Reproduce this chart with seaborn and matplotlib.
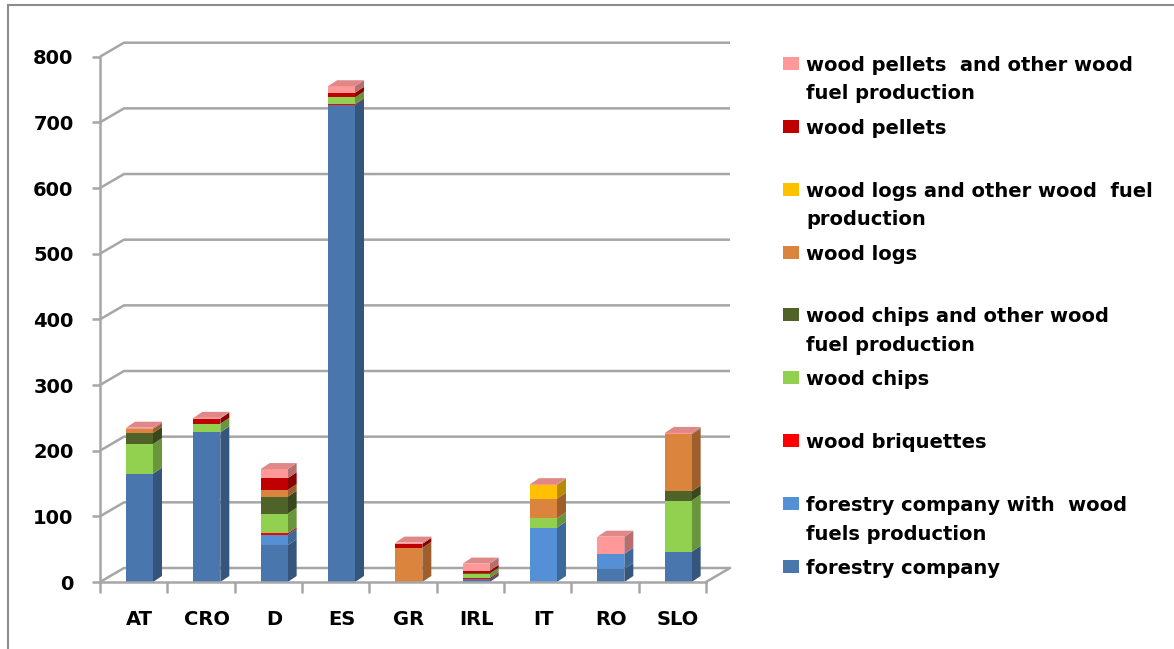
import numpy as np
import pandas as pd
import matplotlib
matplotlib.use("Agg")
import matplotlib.pyplot as plt
import matplotlib.colors as mcolors
from matplotlib.patches import Polygon, Rectangle
import seaborn as sns

# ---------------- data ----------------
countries = ["AT", "CRO", "D", "ES", "GR", "IRL", "IT", "RO", "SLO"]

series_names = [
    "forestry company",
    "forestry company with  wood\nfuels production",
    "wood briquettes",
    "wood chips",
    "wood chips and other wood\nfuel production",
    "wood logs",
    "wood logs and other wood  fuel\nproduction",
    "wood pellets",
    "wood pellets  and other wood\nfuel production",
]
series_colors = ["#4A76AE", "#5590D6", "#FF0000", "#92D050", "#4F6228",
                 "#DB843D", "#FFC000", "#C00000", "#FF9999"]

forestry_company = [165, 228, 56, 727, 0, 4, 0, 20, 46]
forestry_company_wood_fuels = [0, 0, 16, 0, 0, 0, 83, 23, 0]
wood_briquettes = [0, 0, 2, 1, 0, 2, 0, 0, 0]
wood_chips = [45, 13, 30, 10, 0, 6, 14, 0, 78]
wood_chips_other = [17, 0, 26, 0, 0, 1, 0, 0, 14]
wood_logs = [6, 0, 10, 0, 52, 0, 30, 0, 87]
wood_logs_other = [0, 0, 0, 0, 0, 0, 21, 0, 0]
wood_pellets = [0, 8, 18, 7, 6, 4, 0, 0, 0]
wood_pellets_other = [2, 1, 14, 10, 2, 11, 1, 26, 2]

y_ticks = [0, 100, 200, 300, 400, 500, 600, 700, 800]

values = [forestry_company, forestry_company_wood_fuels, wood_briquettes,
          wood_chips, wood_chips_other, wood_logs, wood_logs_other,
          wood_pellets, wood_pellets_other]

df = pd.DataFrame({"country": countries})
for name, vals in zip(series_names, values):
    df[name] = vals
cum = df[series_names].cumsum(axis=1)
bottoms = cum.shift(1, axis=1).fillna(0)

# ---------------- figure ----------------
W, H = 1174, 649
sns.set_theme(style="white")
plt.rcParams["font.family"] = ["DejaVu Sans"]
plt.rcParams["font.weight"] = "bold"
fig = plt.figure(figsize=(W / 100, H / 100), dpi=100)
fig.patch.set_facecolor("white")

px_left, px_right, px_y0, px_y800 = 100, 706, 582, 56.7
ax = fig.add_axes([px_left / W, 1 - px_y0 / H,
                   (px_right - px_left) / W, (px_y0 - px_y800) / H])
ax.set_facecolor("none")

bar_w = 0.40
grid_c = "#A6A6A6"

# stacked front faces, drawn from the full stack downwards
for name, color in zip(series_names[::-1], series_colors[::-1]):
    tmp = pd.DataFrame({"country": countries, "top": cum[name].values})
    sns.barplot(data=tmp, x="country", y="top", color=color, width=bar_w,
                saturation=1, ax=ax, zorder=3, linewidth=0)

x0, x1 = -0.587, 8.413
ax.set_xlim(x0, x1)
ax.set_ylim(0, 800)

# pseudo-3D depth
px_per_x = (px_right - px_left) / (x1 - x0)
px_per_y = (px_y0 - px_y800) / 800
wall_dx, wall_dy = 24 / px_per_x, 14 / px_per_y
bar_dx, bar_dy = 9 / px_per_x, 6 / px_per_y


def shade(c, f):
    r, g, b = mcolors.to_rgb(c)
    return (r * f, g * f, b * f)


# back wall gridlines + left wall connectors
for v in y_ticks:
    ax.plot([x0, x0 + wall_dx, x1 + wall_dx], [v, v + wall_dy, v + wall_dy],
            color=grid_c, lw=1.8, clip_on=False, zorder=1,
            solid_capstyle="butt")
ax.plot([x1, x1 + wall_dx], [0, wall_dy], color=grid_c, lw=1.8,
        clip_on=False, zorder=1)

# side and top faces of each bar
for i in range(len(countries)):
    xr = i + bar_w / 2
    xl = i - bar_w / 2
    top_color = None
    for name, color in zip(series_names, series_colors):
        b = bottoms.loc[i, name]
        t = cum.loc[i, name]
        if t - b <= 0:
            continue
        ax.add_patch(Polygon([(xr, b), (xr + bar_dx, b + bar_dy),
                              (xr + bar_dx, t + bar_dy), (xr, t)],
                             closed=True, facecolor=shade(color, 0.72),
                             edgecolor="none", zorder=2.5, clip_on=False))
        top_color = color
    T = cum.loc[i, series_names[-1]]
    ax.add_patch(Polygon([(xl, T), (xl + bar_dx, T + bar_dy),
                          (xr + bar_dx, T + bar_dy), (xr, T)],
                         closed=True, facecolor=shade(top_color, 0.88),
                         edgecolor="none", zorder=4, clip_on=False))

# axes styling
for s in ["top", "right"]:
    ax.spines[s].set_visible(False)
for s in ["left", "bottom"]:
    ax.spines[s].set_color(grid_c)
    ax.spines[s].set_linewidth(1.8)
    ax.spines[s].set_zorder(5)

ax.set_yticks(y_ticks)
ax.set_yticklabels([str(v) for v in y_ticks], fontsize=14, fontweight="bold",
                   color="black")
ax.tick_params(axis="y", length=6, width=1.8, color=grid_c, pad=13,
               direction="out", left=True, labelcolor="black")
ax.set_xticks(range(len(countries)))
ax.set_xticklabels(countries, fontsize=14, fontweight="bold", color="black")
ax.tick_params(axis="x", which="major", length=0, pad=20, labelcolor="black")
ax.set_xticks([x0 + k for k in range(len(countries) + 1)], minor=True)
ax.tick_params(axis="x", which="minor", length=8, width=1.8, color=grid_c,
               direction="out", bottom=True)
ax.set_xlabel("")
ax.set_ylabel("")

# legend (reverse order, fixed Excel-like spacing)
leg_y0, leg_step, line_h = 63.3, 62.9, 28.4
for k, (name, color) in enumerate(zip(series_names[::-1],
                                      series_colors[::-1])):
    yc = leg_y0 + k * leg_step
    fig.patches.append(Rectangle((783 / W, 1 - (yc + 6.5) / H), 16 / W,
                                 13 / H, transform=fig.transFigure,
                                 facecolor=color, edgecolor="none"))
    for j, line in enumerate(name.split("\n")):
        fig.text(806 / W, 1 - (yc + j * line_h) / H, line, fontsize=14,
                 fontweight="bold", ha="left", va="center_baseline",
                 color="black")

# outer chart border (top and left visible)
fig.patches.append(Rectangle((8 / W, -0.1), 1.2, 1 - 5 / H + 0.1,
                             transform=fig.transFigure, facecolor="none",
                             edgecolor="#8C8C8C", lw=1.5))

fig.savefig("out.png", dpi=100)
